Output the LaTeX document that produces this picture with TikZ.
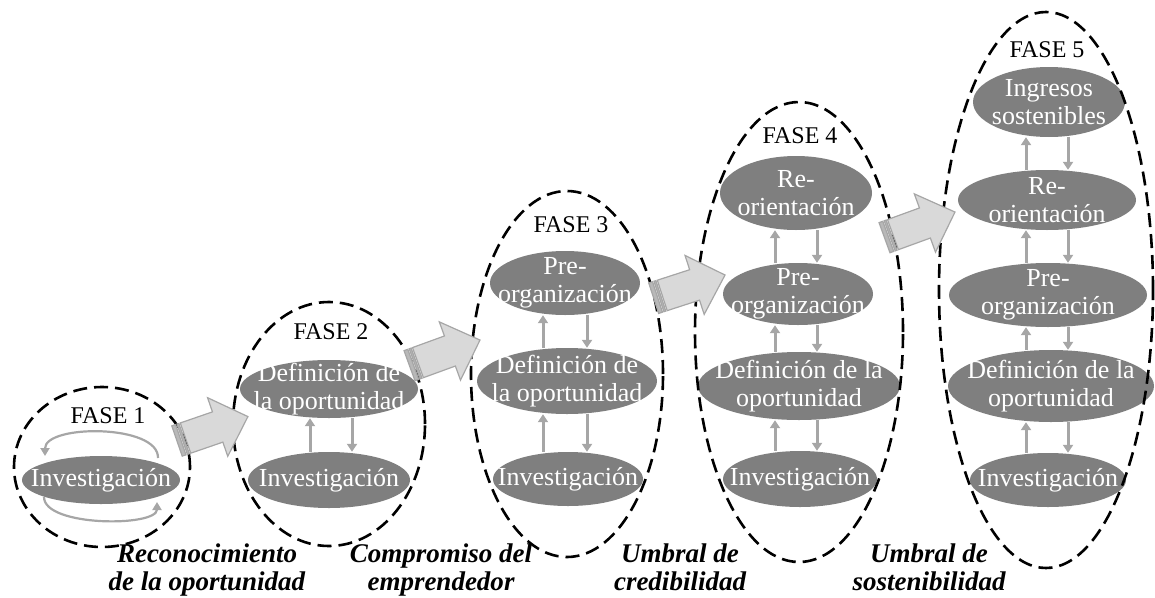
\documentclass[tikz,border=0pt]{standalone}
\usepackage{fontspec}
\setmainfont{Liberation Serif}
\usetikzlibrary{shapes.geometric,arrows.meta}
\definecolor{ellfill}{HTML}{7F7F7F}
\definecolor{smarrow}{HTML}{A6A6A6}
\definecolor{bigfill}{HTML}{D9D9D9}
\definecolor{bigline}{HTML}{A6A6A6}
\definecolor{stripe}{HTML}{B8B8B8}
\newcommand\bigarrowat[3]{%
\begin{scope}[shift={(#1,#2)},rotate=#3]
 \filldraw[bigarr] (9,-16) -- (43,-16) -- (43,-31) -- (75,0) -- (43,31) -- (43,16) -- (9,16) -- cycle;
 \filldraw[bigarr,fill=stripe] (0,-16) rectangle (4,16);
 \filldraw[bigarr,fill=stripe] (5.5,-16) rectangle (7.5,16);
\end{scope}}
\begin{document}
\begin{tikzpicture}[x=1pt,y=-1pt,
  ell/.style={ellipse,fill=ellfill,draw=none,inner sep=0pt},
  intxt/.style={text=white,font=\fontsize{26}{28}\selectfont,align=center,inner sep=0pt},
  phase/.style={ellipse,draw=black,line width=2.6pt,dash pattern=on 14pt off 7pt,inner sep=0pt},
  fase/.style={font=\fontsize{24}{26}\selectfont,inner sep=0pt},
  lbl/.style={font=\fontsize{27}{28}\selectfont\bfseries\itshape,align=center,inner sep=0pt},
  sm/.style={draw=smarrow,line width=3pt,-{Triangle[width=10pt,length=8pt]}},
  arcarr/.style={draw=smarrow,line width=2.2pt,-{Triangle[width=9pt,length=8pt]}},
  bigarr/.style={fill=bigfill,draw=bigline,line width=1.2pt,line join=miter}]
\useasboundingbox (0,0) rectangle (1155,597);

% Phase 1
\node[ell,minimum width=158pt,minimum height=48pt] (p1i) at (101,480) {};
\node[intxt] (p1it) at (p1i) {Investigación};
% Phase 2
\node[ell,minimum width=178pt,minimum height=58pt] (p2d) at (329,389) {};
\node[intxt] (p2dt) at (p2d) {Definición de\\la oportunidad};
\node[ell,minimum width=162pt,minimum height=56pt] (p2i) at (329,480) {};
\node[intxt] (p2it) at (p2i) {Investigación};
% Phase 3
\node[ell,minimum width=150pt,minimum height=64pt] (p3p) at (565,283) {};
\node[intxt] (p3pt) at (p3p) {Pre-\\organización};
\node[ell,minimum width=180pt,minimum height=66pt] (p3d) at (567,381) {};
\node[intxt] (p3dt) at (p3d) {Definición de\\la oportunidad};
\node[ell,minimum width=150pt,minimum height=54pt] (p3i) at (568,479) {};
\node[intxt] (p3it) at (p3i) {Investigación};
% Phase 4
\node[ell,minimum width=152pt,minimum height=74pt] (p4r) at (796,193) {};
\node[intxt] (p4rt) at (p4r) {Re-\\orientación};
\node[ell,minimum width=150pt,minimum height=62pt] (p4p) at (798,294) {};
\node[intxt] (p4pt) at (p4p) {Pre-\\organización};
\node[ell,minimum width=202pt,minimum height=68pt] (p4d) at (799,386) {};
\node[intxt] (p4dt) at (p4d) {Definición de la\\oportunidad};
\node[ell,minimum width=154pt,minimum height=56pt] (p4i) at (800,479) {};
\node[intxt] (p4it) at (p4i) {Investigación};
% Phase 5
\node[ell,minimum width=152pt,minimum height=70pt] (p5s) at (1049,102) {};
\node[intxt] (p5st) at (p5s) {Ingresos\\sostenibles};
\node[ell,minimum width=178pt,minimum height=60pt] (p5r) at (1047,200) {};
\node[intxt] (p5rt) at (p5r) {Re-\\orientación};
\node[ell,minimum width=198pt,minimum height=64pt] (p5p) at (1048,295) {};
\node[intxt] (p5pt) at (p5p) {Pre-\\organización};
\node[ell,minimum width=206pt,minimum height=72pt] (p5d) at (1051,386) {};
\node[intxt] (p5dt) at (p5d) {Definición de la\\oportunidad};
\node[ell,minimum width=156pt,minimum height=54pt] (p5i) at (1048,480) {};
\node[intxt] (p5it) at (p5i) {Investigación};

% small arrows
\draw[arcarr] ([shift={(57,-22)}]p1i.center) .. controls ([shift={(58,-56)}]p1i.center) and ([shift={(-56,-56)}]p1i.center) .. ([shift={(-56,-24)}]p1i.center);
\draw[arcarr] ([shift={(-57,17)}]p1i.center) .. controls ([shift={(-57,47)}]p1i.center) and ([shift={(56,47)}]p1i.center) .. ([shift={(56,22)}]p1i.center);

\draw[sm] (310,0 |- p2i.north) -- (310,0 |- p2d.south);
\draw[sm] (352,0 |- p2d.south) -- (352,0 |- p2i.north);

\draw[sm] (543,0 |- p3i.north) -- (543,0 |- p3d.south);
\draw[sm] (587,0 |- p3d.south) -- (587,0 |- p3i.north);
\draw[sm] (543,0 |- p3d.north) -- (543,0 |- p3p.south);
\draw[sm] (587,0 |- p3p.south) -- (587,0 |- p3d.north);

\draw[sm] (775,0 |- p4i.north) -- (775,0 |- p4d.south);
\draw[sm] (817,0 |- p4d.south) -- (817,0 |- p4i.north);
\draw[sm] (775,0 |- p4d.north) -- (775,0 |- p4p.south);
\draw[sm] (817,0 |- p4p.south) -- (817,0 |- p4d.north);
\draw[sm] (775,0 |- p4p.north) -- (775,0 |- p4r.south);
\draw[sm] (817,0 |- p4r.south) -- (817,0 |- p4p.north);

\draw[sm] (1026,0 |- p5i.north) -- (1026,0 |- p5d.south);
\draw[sm] (1068,0 |- p5d.south) -- (1068,0 |- p5i.north);
\draw[sm] (1026,0 |- p5d.north) -- (1026,0 |- p5p.south);
\draw[sm] (1068,0 |- p5p.south) -- (1068,0 |- p5d.north);
\draw[sm] (1026,0 |- p5p.north) -- (1026,0 |- p5r.south);
\draw[sm] (1068,0 |- p5r.south) -- (1068,0 |- p5p.north);
\draw[sm] (1026,0 |- p5r.north) -- (1026,0 |- p5s.south);
\draw[sm] (1068,0 |- p5s.south) -- (1068,0 |- p5r.north);

% phase outlines
\node[phase,minimum width=176pt,minimum height=160pt] (ph1) at (102,467) {};
\node[phase,minimum width=192pt,minimum height=244pt] (ph2) at (329,424) {};
\node[phase,minimum width=192pt,minimum height=366pt] (ph3) at (567,374) {};
\node[phase,minimum width=208pt,minimum height=460pt] (ph4) at (799,332) {};
\node[phase,minimum width=214pt,minimum height=556pt] (ph5) at (1046,290) {};

% phase titles
\node[fase] (f1) at (108,416) {FASE 1};
\node[fase] (f2) at (331,332) {FASE 2};
\node[fase] (f3) at (571,225) {FASE 3};
\node[fase] (f4) at (800,136) {FASE 4};
\node[fase] (f5) at (1047,50) {FASE 5};

% big arrows
\bigarrowat{177}{441}{19}
\bigarrowat{409.5}{365.7}{20}
\bigarrowat{653.7}{298.2}{18}
\bigarrowat{884.5}{237.7}{20}

% bottom labels
\node[lbl] (l1) at (207,570) {Reconocimiento\\de la oportunidad};
\node[lbl] (l2) at (441,570) {Compromiso del\\emprendedor};
\node[lbl] (l3) at (680,567) {Umbral de\\credibilidad};
\node[lbl] (l4) at (929,567) {Umbral de\\sostenibilidad};
\end{tikzpicture}
\end{document}
